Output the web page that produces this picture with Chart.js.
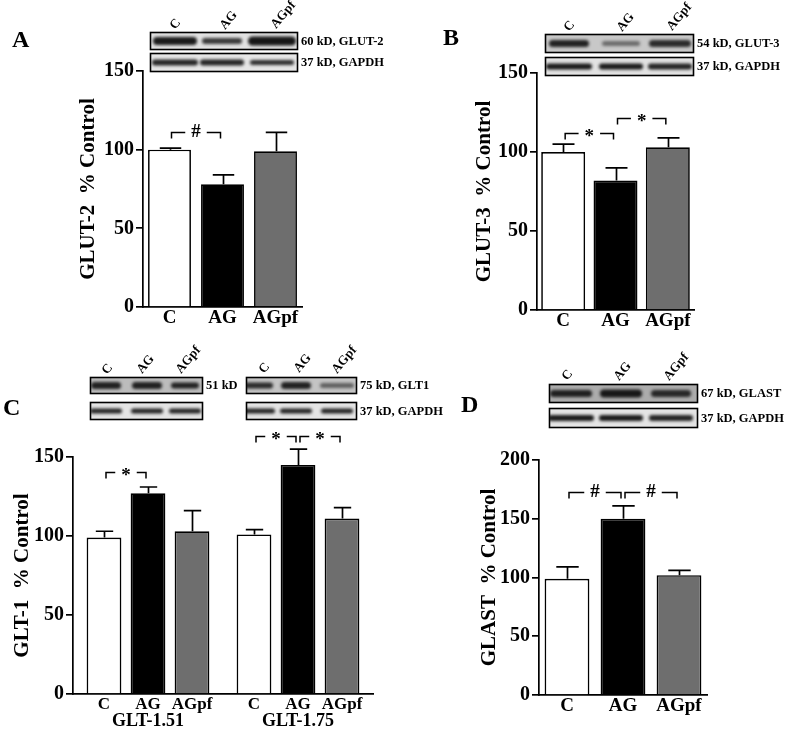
<!DOCTYPE html>
<html><head><meta charset="utf-8">
<script src="https://cdn.jsdelivr.net/npm/chart.js@4.4.1/dist/chart.umd.min.js"></script>
<style>
html,body{margin:0;padding:0;background:#fff;}
#wrap{position:relative;width:787px;height:731px;overflow:hidden;background:#fff;}
canvas{position:absolute;left:0;top:0;}
</style></head><body>
<div id="wrap">
<canvas id="cA" width="787" height="731"></canvas>
<canvas id="cB" width="787" height="731"></canvas>
<canvas id="cC" width="787" height="731"></canvas>
<canvas id="cD" width="787" height="731"></canvas>
</div>
<script>
// ---------- data ----------
const groups = ['C', 'AG', 'AGpf'];
const glut2Mean = [100, 78, 99];
const glut2Sem = [1, 6, 12];
const glut3Mean = [100, 82, 103];
const glut3Sem = [5, 8, 6];
const glt1Groups = ['GLT-1.51', 'GLT-1.75'];
const glt1C = [99, 101];
const glt1CSem = [4, 3];
const glt1AG = [127, 145];
const glt1AGSem = [4, 10];
const glt1AGpf = [103, 111];
const glt1AGpfSem = [13, 7];
const glastMean = [99, 150, 102];
const glastSem = [10, 11, 4];
const yTicks150 = [0, 50, 100, 150];
const yTicks200 = [0, 50, 100, 150, 200];
// significance brackets: [dataset, index] pairs and level in % control
const glut2Sig = [{from: [0, 0], to: [0, 1], level: 111, text: '#'}];
const glut3Sig = [{from: [0, 0], to: [0, 1], level: 112, text: '*'},
                  {from: [0, 1], to: [0, 2], level: 121.5, text: '*'}];
const glt1Sig = [{from: [0, 0], to: [1, 0], level: 140.5, text: '*'},
                 {from: [0, 1], to: [1, 1], level: 163, text: '*'},
                 {from: [1, 1], to: [2, 1], level: 163, text: '*'}];
const glastSig = [{from: [0, 0], to: [0, 1], level: 173, text: '#'},
                  {from: [0, 1], to: [0, 2], level: 173, text: '#'}];

// ---------- style ----------
const FONT = '"Liberation Serif","Times New Roman",serif';
const barColors = ['#ffffff', '#000000', '#6e6e6e'];

const errPlugin = {
  id: 'errbars',
  afterDatasetsDraw(chart) {
    const ctx = chart.ctx, ys = chart.scales.y;
    chart.data.datasets.forEach((ds, i) => {
      if (!ds.errors) return;
      chart.getDatasetMeta(i).data.forEach((el, j) => {
        const yt = ys.getPixelForValue(ds.data[j] + ds.errors[j]);
        const x = Math.round(el.x) + 0.5, hw = el.width * 0.25;
        ctx.save();
        ctx.strokeStyle = '#000'; ctx.lineWidth = 1.7;
        ctx.beginPath();
        ctx.moveTo(x, el.y); ctx.lineTo(x, yt);
        ctx.moveTo(x - hw, yt); ctx.lineTo(x + hw, yt);
        ctx.stroke(); ctx.restore();
      });
    });
  }
};

function sigPlugin(items) {
  return {
    id: 'sig',
    afterDatasetsDraw(chart) {
      const ctx = chart.ctx, ys = chart.scales.y;
      items.forEach(b => {
        const a = chart.getDatasetMeta(b.from[0]).data[b.from[1]];
        const c = chart.getDatasetMeta(b.to[0]).data[b.to[1]];
        const x1 = a.x + 2, x2 = c.x - 2;
        const y = Math.round(ys.getPixelForValue(b.level)) + 0.5;
        ctx.save();
        ctx.font = 'bold 19px ' + FONT;
        const tw = ctx.measureText(b.text).width;
        const mid = (x1 + x2) / 2, g = tw / 2 + 6, drop = 6;
        ctx.strokeStyle = '#000'; ctx.lineWidth = 1.5;
        ctx.beginPath();
        ctx.moveTo(x1, y + drop); ctx.lineTo(x1, y); ctx.lineTo(mid - g, y);
        ctx.moveTo(mid + g, y); ctx.lineTo(x2, y); ctx.lineTo(x2, y + drop);
        ctx.stroke();
        ctx.fillStyle = '#000'; ctx.textAlign = 'center'; ctx.textBaseline = 'middle';
        ctx.fillText(b.text, mid, y + (b.text === '*' ? 4 : 0));
        ctx.restore();
      });
    }
  };
}

function drawBlot(ctx, b) {
  ctx.save();
  ctx.fillStyle = b.bg; ctx.fillRect(b.x, b.y, b.w, b.h);
  ctx.save();
  ctx.beginPath(); ctx.rect(b.x, b.y, b.w, b.h); ctx.clip();
  ctx.filter = 'blur(1.6px)';
  b.bands.forEach(d => {
    ctx.fillStyle = 'rgba(15,15,15,' + d.a + ')';
    ctx.beginPath();
    const cy = b.y + b.h / 2 + 0.5;
    if (ctx.roundRect) ctx.roundRect(d.cx - d.w / 2, cy - d.th / 2, d.w, d.th, d.th / 2);
    else ctx.ellipse(d.cx, cy, d.w / 2, d.th / 2, 0, 0, Math.PI * 2);
    ctx.fill();
  });
  ctx.restore();
  ctx.strokeStyle = '#000'; ctx.lineWidth = 1.6;
  ctx.strokeRect(b.x + 0.5, b.y + 0.5, b.w, b.h);
  if (b.label) {
    ctx.fillStyle = '#000'; ctx.font = 'bold 12.5px ' + FONT;
    ctx.textBaseline = 'middle'; ctx.textAlign = 'left';
    ctx.fillText(b.label, b.x + b.w + 4, b.y + b.h / 2 + 1);
  }
  ctx.restore();
}

function decoPlugin(deco) {
  return {
    id: 'deco',
    afterDraw(chart) {
      const ctx = chart.ctx;
      ctx.save();
      ctx.fillStyle = '#000';
      ctx.font = 'bold 24px ' + FONT;
      ctx.textAlign = 'left'; ctx.textBaseline = 'alphabetic';
      ctx.fillText(deco.letter[0], deco.letter[1], deco.letter[2]);
      deco.blots.forEach(b => drawBlot(ctx, b));
      ctx.font = 'bold 13px ' + FONT;
      deco.lanes.forEach(l => {
        ctx.save();
        ctx.translate(l[1], l[2]);
        ctx.rotate(-50 * Math.PI / 180);
        ctx.fillText(l[0], 0, 0);
        ctx.restore();
      });
      if (deco.barLabels) {
        ctx.font = 'bold 17px ' + FONT;
        ctx.textAlign = 'center'; ctx.textBaseline = 'middle';
        const yb = chart.chartArea.bottom + 11;
        chart.data.datasets.forEach((ds, i) => {
          chart.getDatasetMeta(i).data.forEach(el => ctx.fillText(ds.label, el.x, yb));
        });
      }
      ctx.restore();
    }
  };
}

function panelChart(id, o) {
  return new Chart(document.getElementById(id), {
    type: 'bar',
    data: {labels: o.labels, datasets: o.datasets},
    options: {
      responsive: false, animation: false, devicePixelRatio: 1,
      layout: {padding: {left: o.area.left - o.yw, right: 787 - o.area.right,
                         top: o.area.top, bottom: 731 - o.area.bottom - o.xh}},
      plugins: {legend: {display: false}, tooltip: {enabled: false}},
      scales: {
        x: {
          grid: {display: false, drawTicks: false},
          border: {display: true, color: '#000', width: 1.7},
          ticks: {color: '#000', font: {family: FONT, weight: 'bold', size: o.xFont},
                  padding: o.xPad, maxRotation: 0, autoSkip: false},
          afterFit: s => { s.height = o.xh; }
        },
        y: {
          min: 0, max: o.ymax,
          afterBuildTicks: s => { s.ticks = o.yTicks.map(v => ({value: v})); },
          ticks: {color: '#000', font: {family: FONT, weight: 'bold', size: 20}, padding: 2},
          grid: {display: true, drawOnChartArea: false, drawTicks: true, tickLength: 7,
                 color: '#000', lineWidth: 1.7},
          border: {display: true, color: '#000', width: 1.7},
          title: {display: true, text: o.ytitle, color: '#000',
                  font: {family: FONT, weight: 'bold', size: 21}, padding: 0},
          afterFit: s => { s.width = o.yw; }
        }
      }
    },
    plugins: [errPlugin, sigPlugin(o.sig), decoPlugin(o.deco)]
  });
}

function single(data, errs, pct) {
  return [{label: 'mean', data: data, errors: errs, backgroundColor: barColors,
           borderColor: '#000', borderWidth: 1.7, categoryPercentage: 1, barPercentage: pct}];
}

// ---------- panel A ----------
panelChart('cA', {
  labels: groups, datasets: single(glut2Mean, glut2Sem, 0.81),
  area: {left: 143, right: 302, top: 71, bottom: 307}, yw: 67, xh: 35, xFont: 19, xPad: 0,
  ymax: 150, yTicks: yTicks150, ytitle: 'GLUT-2  % Control', sig: glut2Sig,
  deco: {
    letter: ['A', 12, 47],
    blots: [
      {x: 150, y: 32, w: 147, h: 17, bg: '#e2e2e2', label: '60 kD, GLUT-2',
       bands: [{cx: 175, w: 44, th: 8, a: 0.95}, {cx: 222, w: 40, th: 6, a: 0.8}, {cx: 272, w: 48, th: 9, a: 0.97}]},
      {x: 150, y: 53, w: 147, h: 18, bg: '#e6e6e6', label: '37 kD, GAPDH',
       bands: [{cx: 175, w: 46, th: 6, a: 0.9}, {cx: 222, w: 44, th: 6, a: 0.9}, {cx: 272, w: 44, th: 5, a: 0.85}]}
    ],
    lanes: [['C', 175, 30], ['AG', 225, 30], ['AGpf', 276, 29]]
  }
});

// ---------- panel B ----------
panelChart('cB', {
  labels: groups, datasets: single(glut3Mean, glut3Sem, 0.84),
  area: {left: 537, right: 694, top: 73, bottom: 310}, yw: 65, xh: 35, xFont: 19, xPad: 0,
  ymax: 150, yTicks: yTicks150, ytitle: 'GLUT-3  % Control', sig: glut3Sig,
  deco: {
    letter: ['B', 443, 45],
    blots: [
      {x: 545, y: 34, w: 148, h: 18, bg: '#c8c8c8', label: '54 kD, GLUT-3',
       bands: [{cx: 569, w: 40, th: 7, a: 0.9}, {cx: 621, w: 38, th: 5, a: 0.5}, {cx: 670, w: 42, th: 7, a: 0.85}]},
      {x: 545, y: 57, w: 148, h: 18, bg: '#e2e2e2', label: '37 kD, GAPDH',
       bands: [{cx: 569, w: 46, th: 6, a: 0.95}, {cx: 621, w: 44, th: 6, a: 0.95}, {cx: 670, w: 44, th: 6, a: 0.9}]}
    ],
    lanes: [['C', 569, 32], ['AG', 622, 32], ['AGpf', 672, 31]]
  }
});

// ---------- panel C ----------
panelChart('cC', {
  labels: glt1Groups,
  datasets: [
    {label: 'C', data: glt1C, errors: glt1CSem, backgroundColor: barColors[0]},
    {label: 'AG', data: glt1AG, errors: glt1AGSem, backgroundColor: barColors[1]},
    {label: 'AGpf', data: glt1AGpf, errors: glt1AGpfSem, backgroundColor: barColors[2]}
  ].map(d => Object.assign(d, {borderColor: '#000', borderWidth: 1.7, categoryPercentage: 0.88, barPercentage: 0.79})),
  area: {left: 73, right: 373, top: 457, bottom: 694}, yw: 63, xh: 36, xFont: 18, xPad: 17,
  ymax: 150, yTicks: yTicks150, ytitle: 'GLT-1  % Control', sig: glt1Sig,
  deco: {
    letter: ['C', 3, 415],
    barLabels: true,
    blots: [
      {x: 90, y: 377, w: 112, h: 16, bg: '#bcbcbc', label: '51 kD',
       bands: [{cx: 106, w: 30, th: 7, a: 0.9}, {cx: 147, w: 30, th: 7, a: 0.9}, {cx: 185, w: 28, th: 6, a: 0.9}]},
      {x: 90, y: 402, w: 112, h: 17, bg: '#e4e4e4', label: '',
       bands: [{cx: 106, w: 32, th: 5, a: 0.9}, {cx: 147, w: 32, th: 5, a: 0.9}, {cx: 185, w: 32, th: 5, a: 0.9}]},
      {x: 246, y: 377, w: 110, h: 16, bg: '#c4c4c4', label: '75 kD, GLT1',
       bands: [{cx: 259, w: 28, th: 6, a: 0.85}, {cx: 296, w: 30, th: 7, a: 0.9}, {cx: 337, w: 34, th: 5, a: 0.55}]},
      {x: 246, y: 402, w: 110, h: 17, bg: '#e4e4e4', label: '37 kD, GAPDH',
       bands: [{cx: 259, w: 32, th: 5, a: 0.9}, {cx: 296, w: 32, th: 5, a: 0.9}, {cx: 337, w: 32, th: 5, a: 0.9}]}
    ],
    lanes: [['C', 107, 375], ['AG', 142, 374], ['AGpf', 181, 374],
            ['C', 264, 374], ['AG', 299, 373], ['AGpf', 337, 374]]
  }
});

// ---------- panel D ----------
panelChart('cD', {
  labels: groups, datasets: single(glastMean, glastSem, 0.8),
  area: {left: 539, right: 707, top: 460, bottom: 695}, yw: 62, xh: 35, xFont: 19, xPad: 0,
  ymax: 200, yTicks: yTicks200, ytitle: 'GLAST  % Control', sig: glastSig,
  deco: {
    letter: ['D', 461, 412],
    blots: [
      {x: 549, y: 384, w: 148, h: 18, bg: '#acacac', label: '67 kD, GLAST',
       bands: [{cx: 571, w: 42, th: 7, a: 0.9}, {cx: 621, w: 42, th: 8, a: 0.95}, {cx: 671, w: 40, th: 7, a: 0.85}]},
      {x: 549, y: 408, w: 148, h: 19, bg: '#e4e4e4', label: '37 kD, GAPDH',
       bands: [{cx: 571, w: 46, th: 6, a: 0.95}, {cx: 621, w: 44, th: 6, a: 0.95}, {cx: 671, w: 44, th: 6, a: 0.9}]}
    ],
    lanes: [['C', 567, 381], ['AG', 619, 381], ['AGpf', 669, 381]]
  }
});
</script>
</body></html>
